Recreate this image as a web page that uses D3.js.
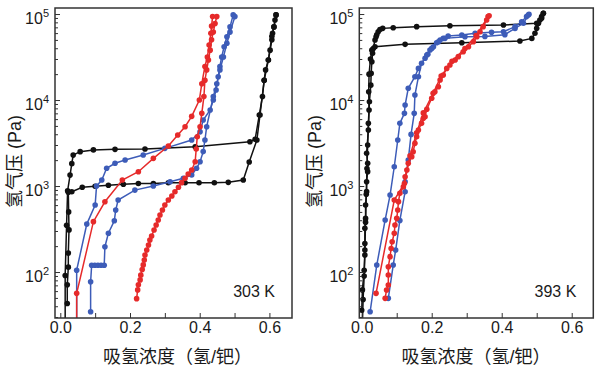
<!DOCTYPE html>
<html>
<head>
<meta charset="utf-8">
<script src="https://cdn.jsdelivr.net/npm/d3@7"></script>
<style>
  body { margin: 0; background: #fff; }
  text { font-family: "Liberation Sans", Arial, "Noto Sans CJK SC", sans-serif; fill: #1a1a1a; }
</style>
</head>
<body>
<svg id="chart"></svg>
<script>
// ---- 303 K panel ----
let black303AbsX = [0.014, 0.014, 0.018, 0.021, 0.028, 0.033, 0.037, 0.057, 0.095, 0.157, 0.243, 0.387, 0.544, 0.559, 0.571, 0.580, 0.585, 0.589, 0.597, 0.602, 0.607, 0.609, 0.613, 0.616, 0.619];
let black303AbsP = [25, 91, 350, 880, 1340, 1820, 2290, 2510, 2630, 2670, 2690, 2860, 3270, 3490, 6700, 11000, 17000, 22400, 29200, 38000, 50100, 59600, 70800, 85100, 97700];
let black303DesX = [0.619, 0.613, 0.607, 0.597, 0.585, 0.573, 0.564, 0.542, 0.525, 0.482, 0.442, 0.398, 0.358, 0.310, 0.267, 0.224, 0.181, 0.138, 0.100, 0.063, 0.033, 0.023, 0.024, 0.025, 0.023, 0.023, 0.020, 0.020];
let black303DesP = [97700, 70800, 55000, 29200, 17000, 6700, 3430, 1905, 1175, 1104, 1091, 1091, 1091, 1091, 1072, 1072, 1047, 1019, 993, 966, 859, 845, 500, 309, 166, 114, 71, 43];

let red303AX = [0.219, 0.222, 0.224, 0.229, 0.231, 0.235, 0.238, 0.241, 0.243, 0.248, 0.253, 0.257, 0.262, 0.269, 0.275, 0.281, 0.286, 0.293, 0.300, 0.310, 0.320, 0.329, 0.339, 0.348, 0.358, 0.367, 0.377, 0.387, 0.390, 0.393, 0.401, 0.406, 0.412, 0.415, 0.420, 0.425, 0.430, 0.434, 0.439, 0.444, 0.449];
let red303AP = [49, 62, 71, 81, 92, 107, 121, 138, 158, 180, 206, 235, 262, 308, 352, 403, 460, 526, 601, 687, 765, 859, 966, 1094, 1228, 1380, 1535, 1919, 2700, 3741, 4898, 7000, 10965, 16982, 22387, 29174, 38019, 50119, 61660, 77625, 93325];
let red303BX = [0.047, 0.047, 0.095, 0.128, 0.178, 0.224, 0.267, 0.310, 0.337, 0.358, 0.377, 0.399, 0.406, 0.415, 0.422, 0.427, 0.432, 0.434, 0.437];
let red303BP = [20, 56.5, 385, 656, 1175, 1466, 2099, 2917, 3917, 4898, 6457, 10000, 15488, 24547, 31600, 43650, 59700, 72400, 93300];

let blue303CX = [0.047, 0.047, 0.076, 0.100, 0.104, 0.119, 0.133, 0.157, 0.186, 0.238, 0.300, 0.377, 0.401, 0.410, 0.430, 0.439, 0.447, 0.453, 0.458, 0.463, 0.470, 0.478, 0.487, 0.496];
let blue303CP = [20, 105, 361, 601, 1000, 1175, 1607, 1837, 2004, 2291, 2742, 3428, 4266, 5848, 7656, 10000, 13062, 18621, 24547, 31623, 41687, 54450, 70795, 97724];
let blue303DX = [0.087, 0.087, 0.090, 0.099, 0.108, 0.117, 0.126, 0.128, 0.138, 0.155, 0.159, 0.166, 0.214, 0.267, 0.315, 0.353, 0.377, 0.391, 0.401, 0.410, 0.415, 0.420, 0.439, 0.449, 0.458, 0.468, 0.478, 0.487, 0.501];
let blue303DP = [34.5, 77, 120, 120, 120, 120, 120, 197, 282, 395, 525, 687, 897, 1000, 1122, 1230, 1343, 1607, 1919, 2512, 3428, 4898, 10965, 15488, 22387, 31623, 45709, 61660, 93325];

// ---- 393 K panel ----
let black393AbsX = [0.002, 0.004, 0.007, 0.009, 0.011, 0.013, 0.015, 0.017, 0.019, 0.022, 0.026, 0.027, 0.029, 0.031, 0.033, 0.038, 0.041, 0.043, 0.047, 0.052, 0.060, 0.090, 0.157, 0.252, 0.405, 0.500, 0.509, 0.514, 0.519];
let black393AbsP = [25, 48, 90, 180, 380, 800, 1600, 3000, 5360, 9550, 14900, 20400, 27900, 34900, 39800, 49900, 54500, 57500, 62200, 66100, 68100, 69300, 71300, 73100, 74500, 78000, 85100, 93300, 101800];
let black393DesX = [0.519, 0.514, 0.505, 0.500, 0.495, 0.486, 0.452, 0.286, 0.124, 0.038, 0.029, 0.025, 0.021, 0.020, 0.021, 0.019, 0.014, 0.017, 0.017, 0.014, 0.014, 0.011, 0.011, 0.009, 0.009, 0.009, 0.007, 0.002, 0.000];
let black393DesP = [101800, 89100, 78000, 68100, 59700, 52100, 48500, 46300, 44400, 41700, 38000, 30000, 20000, 12500, 7660, 4480, 2400, 1840, 1470, 1120, 860, 600, 420, 322, 214, 158, 105, 62, 36];

let blue393EX = [0.024, 0.043, 0.067, 0.081, 0.093, 0.103, 0.109, 0.122, 0.124, 0.133, 0.152, 0.162, 0.181, 0.189, 0.195, 0.205, 0.214, 0.224, 0.233, 0.247, 0.286, 0.324, 0.371, 0.405, 0.438, 0.457, 0.471, 0.478];
let blue393EP = [34.5, 120.5, 403, 785, 1675, 3428, 5358, 7000, 8750, 13680, 18660, 23330, 30550, 33960, 38110, 41690, 46340, 49890, 52120, 55460, 57020, 59700, 61240, 62230, 71290, 81280, 93330, 99310];
let blue393FX = [0.076, 0.090, 0.097, 0.109, 0.124, 0.124, 0.133, 0.141, 0.150, 0.152, 0.162, 0.171, 0.186, 0.200, 0.219, 0.238, 0.295, 0.352, 0.409, 0.438, 0.462, 0.476];
let blue393FP = [49.4, 120.5, 180, 398, 859, 1122, 2004, 3981, 7000, 11430, 18620, 26730, 33340, 39810, 47640, 52120, 54450, 54950, 57540, 68080, 77980, 97270];

let red393GX = [0.041, 0.093, 0.122, 0.138, 0.157, 0.176, 0.204, 0.227, 0.258, 0.295, 0.327, 0.361];
let red393GP = [56.5, 687, 1072, 2240, 4170, 7080, 12000, 19000, 28200, 39800, 56200, 93300];
let red393HX = [0.067, 0.071, 0.076, 0.076, 0.076, 0.081, 0.084, 0.087, 0.093, 0.095, 0.100, 0.103, 0.105, 0.109, 0.119, 0.124, 0.129, 0.133, 0.143, 0.147, 0.152, 0.157, 0.162, 0.171, 0.176, 0.181, 0.186, 0.200, 0.209, 0.219, 0.224, 0.233, 0.243, 0.252, 0.267, 0.276, 0.290, 0.305, 0.319, 0.329, 0.338, 0.347, 0.357, 0.364];
let red393HP = [49.4, 61.8, 70.6, 92.3, 115, 151, 188, 225, 282, 352, 421, 526, 658, 822, 982, 1282, 1535, 1837, 2193, 2506, 3133, 3741, 4477, 5358, 6124, 6400, 7800, 10470, 12500, 14290, 17100, 19540, 23330, 25530, 29170, 31920, 36480, 41690, 47640, 54450, 62230, 71290, 85110, 95500];

let xMajorTicks = [0, 0.2, 0.4, 0.6];
let xMinorTicks = [0.1, 0.3, 0.5];
let yMajorTicks = [1e2, 1e3, 1e4, 1e5];
let tempLabels = ["303 K", "393 K"];
let xTitle = "吸氢浓度（氢/钯）";
let yTitle = "氢气压 (Pa)";

let w = 600;
let h = 373;
let plotTop = 8;
let plotBottom = 318;
let red = "#e62a2a";
let blue = "#3d5cb8";
let black = "#111111";

let svg = d3.select("#chart").attr("width", w).attr("height", h);

let yScale = d3.scaleLog()
               .domain([29.2, 117500])
               .range([plotBottom, plotTop]);

// minor log ticks 2..9 x 10^n inside the domain
let yMinorTicks = [];
[10, 100, 1000, 10000].forEach((base) => {
    for (let k = 2; k <= 9; k++) {
        let v = k * base;
        if (v >= 29.2 && v <= 117500) yMinorTicks.push(v);
    }
});

let panels = [
    {
        left: 55, right: 292, xDomain: [-0.0152, 0.6648], label: tempLabels[0],
        yTitleX: 15, xTitleX: 103,
        series: [
            { x: black303AbsX, p: black303AbsP, color: black },
            { x: black303DesX, p: black303DesP, color: black },
            { x: blue303CX, p: blue303CP, color: blue },
            { x: blue303DX, p: blue303DP, color: blue },
            { x: red303BX, p: red303BP, color: red },
            { x: red303AX, p: red303AP, color: red }
        ]
    },
    {
        left: 359.3, right: 593.3, xDomain: [-0.0069, 0.6617], label: tempLabels[1],
        yTitleX: 315, xTitleX: 401.5,
        series: [
            { x: black393AbsX, p: black393AbsP, color: black },
            { x: black393DesX, p: black393DesP, color: black },
            { x: blue393EX, p: blue393EP, color: blue },
            { x: blue393FX, p: blue393FP, color: blue },
            { x: red393GX, p: red393GP, color: red },
            { x: red393HX, p: red393HP, color: red }
        ]
    }
];

let drawPanel = (panel, i) => {
    let xScale = d3.scaleLinear()
                   .domain(panel.xDomain)
                   .range([panel.left, panel.right]);

    svg.append("clipPath")
       .attr("id", "clip" + i)
       .append("rect")
       .attr("x", panel.left)
       .attr("y", plotTop)
       .attr("width", panel.right - panel.left)
       .attr("height", plotBottom - plotTop);

    let g = svg.append("g").attr("clip-path", `url(#clip${i})`);

    let line = d3.line()
                 .x((d) => xScale(d[0]))
                 .y((d) => yScale(d[1]));

    panel.series.forEach((s) => {
        let pts = s.x.map((d, j) => [d, s.p[j]]);
        g.append("path")
         .attr("d", line(pts))
         .attr("fill", "none")
         .attr("stroke", s.color)
         .attr("stroke-width", 1.5);
        g.append("g")
         .selectAll("circle")
         .data(pts)
         .enter()
         .append("circle")
         .attr("cx", (d) => xScale(d[0]))
         .attr("cy", (d) => yScale(d[1]))
         .attr("r", 2.8)
         .attr("fill", s.color);
    });

    // x axis, ticks pointing inward
    let xAxis = d3.axisBottom(xScale)
                  .tickValues(xMajorTicks)
                  .tickSize(-5)
                  .tickPadding(4)
                  .tickFormat(d3.format(".1f"));
    svg.append("g")
       .attr("transform", `translate(0, ${plotBottom})`)
       .call(xAxis)
       .attr("font-size", 16)
       .attr("color", "#333")
       .call((a) => a.select(".domain").remove());

    svg.append("g")
       .attr("transform", `translate(0, ${plotBottom})`)
       .call(d3.axisBottom(xScale).tickValues(xMinorTicks).tickSize(-5).tickFormat(""))
       .attr("color", "#333")
       .call((a) => a.select(".domain").remove());

    // y axis, log ticks
    svg.append("g")
       .attr("transform", `translate(${panel.left}, 0)`)
       .call(d3.axisLeft(yScale).tickValues(yMajorTicks).tickSize(-5).tickFormat(""))
       .attr("color", "#333")
       .call((a) => a.select(".domain").remove());

    svg.append("g")
       .attr("transform", `translate(${panel.left}, 0)`)
       .call(d3.axisLeft(yScale).tickValues(yMinorTicks).tickSize(-3).tickFormat(""))
       .attr("color", "#333")
       .call((a) => a.select(".domain").remove());

    let yLabels = svg.append("g")
                     .selectAll("text")
                     .data(yMajorTicks)
                     .enter()
                     .append("text")
                     .attr("x", panel.left - 6)
                     .attr("y", (d) => yScale(d) + 9.5)
                     .attr("text-anchor", "end")
                     .attr("font-size", 16)
                     .text("10");
    yLabels.append("tspan")
           .attr("dy", -7)
           .attr("font-size", 11)
           .text((d) => Math.round(Math.log10(d)));

    // frame
    svg.append("rect")
       .attr("x", panel.left)
       .attr("y", plotTop)
       .attr("width", panel.right - panel.left)
       .attr("height", plotBottom - plotTop)
       .attr("fill", "none")
       .attr("stroke", "#333")
       .attr("stroke-width", 1.5);

    svg.append("text")
       .attr("x", panel.right - 17)
       .attr("y", 297)
       .attr("text-anchor", "end")
       .attr("font-size", 16)
       .text(panel.label);

    svg.append("text")
       .attr("x", panel.xTitleX)
       .attr("y", 363)
       .attr("font-size", 18)
       .text(xTitle);

    svg.append("text")
       .attr("transform", `translate(${panel.yTitleX}, 161.5) rotate(-90)`)
       .attr("text-anchor", "middle")
       .attr("dy", "0.35em")
       .attr("font-size", 18)
       .text(yTitle);
};

panels.forEach(drawPanel);
</script>
</body>
</html>
